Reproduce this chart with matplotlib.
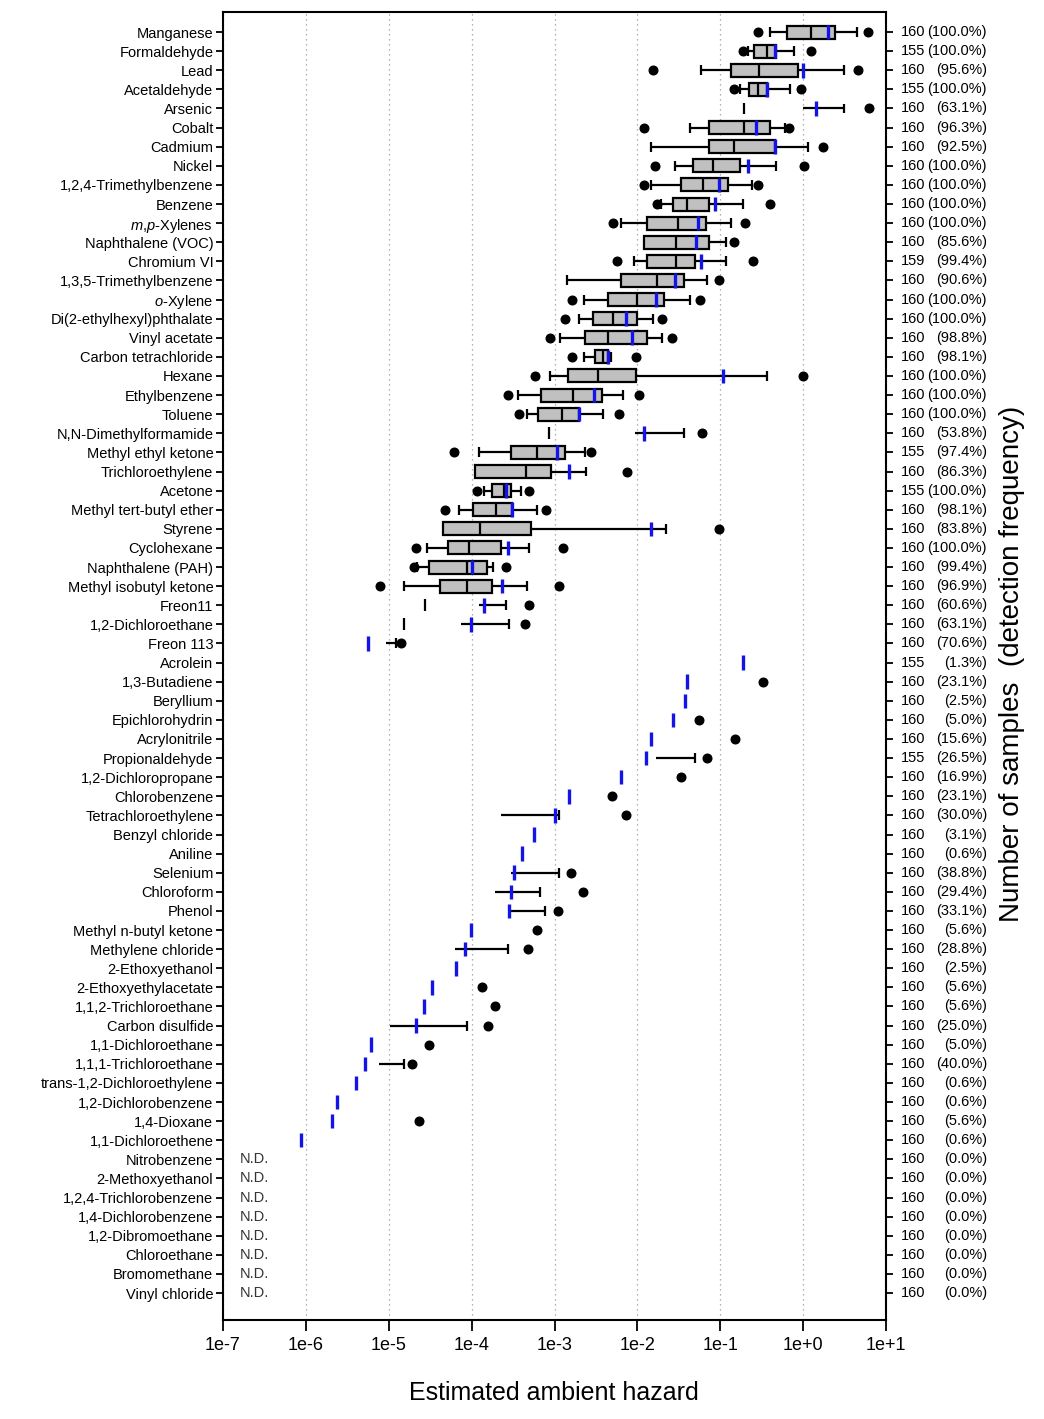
import numpy as np
import matplotlib
matplotlib.use("Agg")
import matplotlib.pyplot as plt
from matplotlib.patches import Rectangle
from matplotlib.ticker import NullLocator
from matplotlib.transforms import blended_transform_factory

nan = np.nan

chemicals = [
    "Manganese", "Formaldehyde", "Lead", "Acetaldehyde", "Arsenic", "Cobalt", "Cadmium", "Nickel",
    "1,2,4-Trimethylbenzene", "Benzene", r"$\it{m}$,$\it{p}$-Xylenes", "Naphthalene (VOC)", "Chromium VI",
    "1,3,5-Trimethylbenzene", r"$\it{o}$-Xylene", "Di(2-ethylhexyl)phthalate", "Vinyl acetate",
    "Carbon tetrachloride", "Hexane", "Ethylbenzene", "Toluene", "N,N-Dimethylformamide",
    "Methyl ethyl ketone", "Trichloroethylene", "Acetone", "Methyl tert-butyl ether", "Styrene",
    "Cyclohexane", "Naphthalene (PAH)", "Methyl isobutyl ketone", "Freon11", "1,2-Dichloroethane",
    "Freon 113", "Acrolein", "1,3-Butadiene", "Beryllium", "Epichlorohydrin", "Acrylonitrile",
    "Propionaldehyde", "1,2-Dichloropropane", "Chlorobenzene", "Tetrachloroethylene",
    "Benzyl chloride", "Aniline", "Selenium", "Chloroform", "Phenol", "Methyl n-butyl ketone",
    "Methylene chloride", "2-Ethoxyethanol", "2-Ethoxyethylacetate", "1,1,2-Trichloroethane",
    "Carbon disulfide", "1,1-Dichloroethane", "1,1,1-Trichloroethane", "trans-1,2-Dichloroethylene",
    "1,2-Dichlorobenzene", "1,4-Dioxane", "1,1-Dichloroethene", "Nitrobenzene", "2-Methoxyethanol",
    "1,2,4-Trichlorobenzene", "1,4-Dichlorobenzene", "1,2-Dibromoethane", "Chloroethane",
    "Bromomethane", "Vinyl chloride",
]

n_samples = [
    160, 155, 160, 155, 160, 160, 160, 160, 160, 160,
    160, 160, 159, 160, 160, 160, 160, 160, 160, 160,
    160, 160, 155, 160, 155, 160, 160, 160, 160, 160,
    160, 160, 160, 155, 160, 160, 160, 160, 155, 160,
    160, 160, 160, 160, 160, 160, 160, 160, 160, 160,
    160, 160, 160, 160, 160, 160, 160, 160, 160, 160,
    160, 160, 160, 160, 160, 160, 160,
]

detect_pct = [
    100.0, 100.0, 95.6, 100.0, 63.1, 96.3, 92.5, 100.0, 100.0, 100.0,
    100.0, 85.6, 99.4, 90.6, 100.0, 100.0, 98.8, 98.1, 100.0, 100.0,
    100.0, 53.8, 97.4, 86.3, 100.0, 98.1, 83.8, 100.0, 99.4, 96.9,
    60.6, 63.1, 70.6, 1.3, 23.1, 2.5, 5.0, 15.6, 26.5, 16.9,
    23.1, 30.0, 3.1, 0.6, 38.8, 29.4, 33.1, 5.6, 28.8, 2.5,
    5.6, 5.6, 25.0, 5.0, 40.0, 0.6, 0.6, 5.6, 0.6, 0.0,
    0.0, 0.0, 0.0, 0.0, 0.0, 0.0, 0.0,
]

# log10 of estimated hazard
log_p5 = [
    -0.55, -0.73, -1.81, -0.84, nan, -1.92, nan, -1.79, -1.92, -1.76,
    -2.30, nan, -2.24, nan, -2.79, -2.87, -3.05, -2.79, -3.23, -3.56,
    -3.43, nan, -4.21, nan, -3.94, -4.32, nan, -4.67, -4.70, -5.11,
    nan, nan, nan, nan, nan, nan, nan, nan, nan, nan,
    nan, nan, nan, nan, nan, nan, nan, nan, nan, nan,
    nan, nan, nan, nan, nan, nan, nan, nan, nan, nan,
    nan, nan, nan, nan, nan, nan, nan,
]
log_p10 = [
    -0.40, -0.67, -1.23, -0.76, nan, -1.37, -1.83, -1.54, -1.83, -1.72,
    -2.20, nan, -2.04, -2.85, -2.65, -2.71, -2.93, -2.64, -3.06, -3.44,
    -3.33, nan, -3.91, nan, -3.85, -4.15, nan, -4.54, -4.66, -4.81,
    nan, nan, nan, nan, nan, nan, nan, nan, nan, nan,
    nan, nan, nan, nan, nan, nan, nan, nan, nan, nan,
    nan, nan, nan, nan, nan, nan, nan, nan, nan, nan,
    nan, nan, nan, nan, nan, nan, nan,
]
log_q1 = [
    -0.19, -0.59, -0.87, -0.65, nan, -1.13, -1.13, -1.33, -1.47, -1.57,
    -1.88, -1.92, -1.88, -2.20, -2.35, -2.53, -2.63, -2.51, -2.84, -3.16,
    -3.20, nan, -3.52, -3.96, -3.75, -3.98, -4.35, -4.29, -4.52, -4.38,
    nan, nan, nan, nan, nan, nan, nan, nan, nan, nan,
    nan, nan, nan, nan, nan, nan, nan, nan, nan, nan,
    nan, nan, nan, nan, nan, nan, nan, nan, nan, nan,
    nan, nan, nan, nan, nan, nan, nan,
]
log_med = [
    0.10, -0.44, -0.53, -0.54, -0.71, -0.71, -0.83, -1.09, -1.21, -1.40,
    -1.51, -1.53, -1.53, -1.76, -2.01, -2.30, -2.35, -2.41, -2.48, -2.78,
    -2.91, -3.07, -3.21, -3.34, -3.61, -3.70, -3.90, -4.03, -4.05, -4.06,
    -4.56, -4.82, nan, nan, nan, nan, nan, nan, nan, nan,
    nan, nan, nan, nan, nan, nan, nan, nan, nan, nan,
    nan, nan, nan, nan, nan, nan, nan, nan, nan, nan,
    nan, nan, nan, nan, nan, nan, nan,
]
log_q3 = [
    0.39, -0.33, -0.06, -0.44, nan, -0.40, -0.34, -0.76, -0.91, -1.13,
    -1.17, -1.13, -1.30, -1.44, -1.68, -2.01, -1.88, -2.35, -2.02, -2.43,
    -2.71, nan, -2.87, -3.04, -3.52, -3.51, -3.28, -3.64, -3.82, -3.75,
    nan, nan, nan, nan, nan, nan, nan, nan, nan, nan,
    nan, nan, nan, nan, nan, nan, nan, nan, nan, nan,
    nan, nan, nan, nan, nan, nan, nan, nan, nan, nan,
    nan, nan, nan, nan, nan, nan, nan,
]
log_p90 = [
    0.65, -0.11, 0.49, -0.16, 0.49, -0.22, 0.06, -0.33, -0.62, -0.73,
    -0.87, -0.93, -0.93, -1.16, -1.37, -1.81, -1.70, -2.32, -0.43, -2.17,
    -2.42, -1.44, -2.63, -2.62, -3.40, -3.21, -1.65, -3.31, -3.74, -3.33,
    -3.58, -3.55, -4.91, nan, nan, nan, nan, nan, -1.31, nan,
    nan, -2.94, nan, nan, -2.95, -3.18, -3.11, nan, -3.56, nan,
    nan, nan, -4.06, nan, -4.81, nan, nan, nan, nan, nan,
    nan, nan, nan, nan, nan, nan, nan,
]
log_p95 = [
    0.78, 0.10, 0.66, -0.03, 0.80, -0.17, 0.24, 0.01, -0.55, -0.40,
    -0.70, -0.83, -0.61, -1.02, -1.25, -1.70, -1.58, -2.02, 0.00, -1.98,
    -2.22, -1.22, -2.56, -2.12, -3.31, -3.10, -1.02, -2.90, -3.58, -2.94,
    -3.31, -3.36, -4.85, nan, -0.49, nan, -1.26, -0.82, -1.16, -1.47,
    -2.31, -2.14, nan, nan, -2.80, -2.66, -2.96, -3.21, -3.32, nan,
    -3.88, -3.72, -3.80, -4.52, -4.72, nan, nan, -4.63, nan, nan,
    nan, nan, nan, nan, nan, nan, nan,
]
log_mean = [
    0.30, -0.34, 0.00, -0.44, 0.15, -0.57, -0.34, -0.67, -1.01, -1.06,
    -1.27, -1.29, -1.23, -1.55, -1.77, -2.14, -2.07, -2.36, -0.97, -2.52,
    -2.71, -1.92, -2.97, -2.83, -3.58, -3.51, -1.84, -3.56, -4.00, -3.63,
    -3.85, -4.01, -5.25, -0.73, -1.40, -1.42, -1.57, -1.83, -1.89, -2.20,
    -2.82, -3.00, -3.25, -3.39, -3.49, -3.53, -3.55, -4.01, -4.08, -4.19,
    -4.48, -4.58, -4.67, -5.22, -5.29, -5.40, -5.63, -5.68, -6.06, nan,
    nan, nan, nan, nan, nan, nan, nan,
]
# start of the upper whisker line for rows drawn without a box
log_seg_lo = [
    nan, nan, nan, nan, 0.00, nan, nan, nan, nan, nan,
    nan, nan, nan, nan, nan, nan, nan, nan, nan, nan,
    nan, -2.03, nan, nan, nan, nan, nan, nan, nan, nan,
    -3.91, -4.13, -5.03, nan, nan, nan, nan, nan, -1.78, nan,
    nan, -3.65, nan, nan, -3.53, -3.72, -3.55, nan, -4.20, nan,
    nan, nan, -4.99, nan, -5.12, nan, nan, nan, nan, nan,
    nan, nan, nan, nan, nan, nan, nan,
]

x_ticks = [1e-7, 1e-6, 1e-5, 1e-4, 1e-3, 1e-2, 1e-1, 1e0, 1e1]
x_tick_labels = ["1e-7", "1e-6", "1e-5", "1e-4", "1e-3", "1e-2", "1e-1", "1e+0", "1e+1"]
nd_position = 10 ** -6.8

plt.rcParams["font.family"] = ["Liberation Sans", "DejaVu Sans"]
plt.rcParams["mathtext.fontset"] = "custom"
plt.rcParams["mathtext.rm"] = "Liberation Sans"
plt.rcParams["mathtext.it"] = "Liberation Sans:italic"

W, H = 1044, 1419
fig = plt.figure(figsize=(W / 100, H / 100), dpi=100)
left, right, top, bottom = 223, 886, 12, 1320
ax = fig.add_axes([left / W, 1 - bottom / H, (right - left) / W, (bottom - top) / H])
ax.set_xscale("log")
ax.set_xlim(1e-7, 1e1)
n = len(chemicals)
ax.set_ylim(n - 1 + 1.41, -1.05)

def pw(a):
    return np.power(10.0, np.array(a, dtype=float))

p5, p10, q1, med, q3 = pw(log_p5), pw(log_p10), pw(log_q1), pw(log_med), pw(log_q3)
p90, p95, mean, seg_lo = pw(log_p90), pw(log_p95), pw(log_mean), pw(log_seg_lo)
y = np.arange(n)

box_h, cap_h, mean_h, lw = 0.68, 0.52, 0.76, 1.6
grey = "#c0c0c0"
blue = "#1414e6"

for i in range(n):
    has_box = not np.isnan(q1[i])
    if has_box:
        # whiskers
        if not np.isnan(p10[i]):
            ax.hlines(y[i], p10[i], q1[i], color="black", lw=lw, zorder=3)
            ax.vlines(p10[i], y[i] - cap_h / 2, y[i] + cap_h / 2, color="black", lw=lw, zorder=3)
        if not np.isnan(p90[i]):
            ax.hlines(y[i], q3[i], p90[i], color="black", lw=lw, zorder=3)
            ax.vlines(p90[i], y[i] - cap_h / 2, y[i] + cap_h / 2, color="black", lw=lw, zorder=3)
        ax.add_patch(Rectangle((q1[i], y[i] - box_h / 2), q3[i] - q1[i], box_h,
                               facecolor=grey, edgecolor="black", lw=lw, zorder=4))
        ax.vlines(med[i], y[i] - box_h / 2, y[i] + box_h / 2, color="black", lw=lw, zorder=5)
    else:
        if not np.isnan(med[i]):
            ax.vlines(med[i], y[i] - cap_h / 2 - 0.05, y[i] + cap_h / 2 + 0.05, color="black", lw=lw, zorder=3)
        if not np.isnan(seg_lo[i]):
            ax.hlines(y[i], seg_lo[i], p90[i], color="black", lw=lw, zorder=3)
            ax.vlines(p90[i], y[i] - cap_h / 2, y[i] + cap_h / 2, color="black", lw=lw, zorder=3)

ax.plot(p5, y, "o", color="black", ms=6.2, zorder=6, linestyle="none")
ax.plot(p95, y, "o", color="black", ms=6.2, zorder=6, linestyle="none")
ok = ~np.isnan(mean)
ax.vlines(mean[ok], y[ok] - mean_h / 2, y[ok] + mean_h / 2, color=blue, lw=2.4, zorder=7)

# N.D. labels
for i in range(n):
    if np.isnan(mean[i]):
        ax.text(nd_position, y[i], "N.D.", ha="left", va="center", fontsize=10.5, color="#333333")

# axes styling
ax.set_xticks(x_ticks)
ax.set_xticklabels(x_tick_labels, fontsize=13)
ax.xaxis.set_minor_locator(NullLocator())
ax.set_yticks(y)
ax.set_yticklabels(chemicals, fontsize=10.5)
ax.tick_params(axis="y", which="both", left=True, right=True, direction="out", length=5, width=1.3, pad=2)
ax.tick_params(axis="x", direction="out", length=8, width=1.3, pad=4)
for s in ax.spines.values():
    s.set_linewidth(1.5)
ax.grid(axis="x", which="major", linestyle=(0, (1, 3)), color="#999999", lw=0.9)
ax.set_axisbelow(True)

# right-hand labels
tr = blended_transform_factory(ax.transAxes, ax.transData)
xc = (901 - left) / (right - left)
xp = (987 - left) / (right - left)
for i in range(n):
    ax.text(xc, y[i], f"{n_samples[i]}", transform=tr, ha="left", va="center", fontsize=10.5, clip_on=False)
    ax.text(xp, y[i], f"({detect_pct[i]:.1f}%)", transform=tr, ha="right", va="center", fontsize=10.5, clip_on=False)

fig.text(554 / W, 1 - 1393 / H, "Estimated ambient hazard", fontsize=18, ha="center", va="center")
fig.text(1012 / W, 1 - 664 / H, "Number of samples  (detection frequency)", fontsize=20,
         rotation=90, ha="center", va="center")

fig.savefig("out.png", dpi=100)
